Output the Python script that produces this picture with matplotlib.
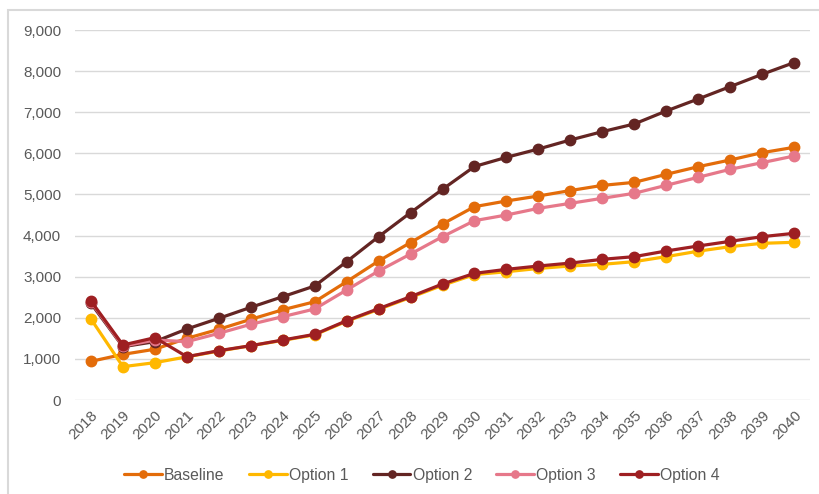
import matplotlib
matplotlib.use("Agg")
import matplotlib.pyplot as plt
from matplotlib.patches import Rectangle
from matplotlib.ticker import FuncFormatter, MultipleLocator

years = [str(y) for y in range(2018, 2041)]

baseline = [940, 1110, 1235, 1500, 1720, 1962, 2195, 2390, 2878, 3381, 3830, 4281,
            4703, 4841, 4962, 5095, 5220, 5294, 5489, 5675, 5838, 6016, 6146]
option1 = [1970, 811, 908, 1050, 1190, 1320, 1450, 1585, 1915, 2205, 2495, 2790,
           3050, 3120, 3200, 3260, 3300, 3365, 3487, 3620, 3730, 3811, 3836]
option2 = [2351, 1297, 1419, 1727, 1986, 2254, 2513, 2773, 3365, 3973, 4557, 5125,
           5680, 5903, 6105, 6325, 6527, 6714, 7030, 7322, 7622, 7922, 8206]
option3 = [2390, 1310, 1460, 1419, 1622, 1841, 2027, 2214, 2676, 3138, 3551, 3973,
           4362, 4500, 4662, 4784, 4906, 5028, 5222, 5417, 5611, 5773, 5935]
option4 = [2408, 1338, 1516, 1054, 1200, 1321, 1459, 1597, 1929, 2222, 2513, 2822,
           3081, 3178, 3259, 3330, 3422, 3487, 3625, 3746, 3859, 3973, 4054]

series = [
    ("Baseline", baseline, "#E36C0A"),
    ("Option 1", option1, "#FFB800"),
    ("Option 2", option2, "#632523"),
    ("Option 3", option3, "#E6788A"),
    ("Option 4", option4, "#9E1F22"),
]

plt.rcParams["font.family"] = ["Liberation Sans", "DejaVu Sans"]

W, H = 819, 494
fig = plt.figure(figsize=(W / 100, H / 100), dpi=100)
ax = fig.add_axes([75 / W, 1 - 400 / H, 735 / W, 370 / H])

x = list(range(len(years)))
for name, vals, color in series:
    ax.plot(x, vals, color=color, lw=2.3, marker="o", markersize=7.5,
            label=name, solid_capstyle="round")

ax.set_xlim(-0.5, len(years) - 0.5)
ax.set_ylim(0, 9000)
ax.yaxis.set_major_locator(MultipleLocator(1000))
ax.yaxis.set_major_formatter(FuncFormatter(lambda v, p: f"{int(v):,}"))
ax.set_xticks(x)
ax.set_xticklabels(years, rotation=45, ha="right", rotation_mode="anchor")

ax.grid(axis="y", color="#D9D9D9", lw=1)
ax.set_axisbelow(True)
for s in ax.spines.values():
    s.set_visible(False)
ax.tick_params(axis="both", length=0, colors="#595959", labelsize=11)
ax.tick_params(axis="y", pad=10)
ax.tick_params(axis="x", pad=6)

leg = fig.legend(loc="center left", bbox_to_anchor=(124 / W, 1 - 475 / H), ncol=5,
                 frameon=False, fontsize=11.3, handlelength=2.4,
                 columnspacing=1.55, handletextpad=0.15, markerscale=0.7,
                 borderpad=0, borderaxespad=0)
for t in leg.get_texts():
    t.set_color("#595959")

# chart area border (left and top edges visible)
fig.patches.append(Rectangle((8 / W, -0.1), 1.2, 1.1 - 10 / H,
                             transform=fig.transFigure, fill=False,
                             edgecolor="#D9D9D9", lw=1.5))

fig.savefig("out.png", dpi=100, facecolor="white")
